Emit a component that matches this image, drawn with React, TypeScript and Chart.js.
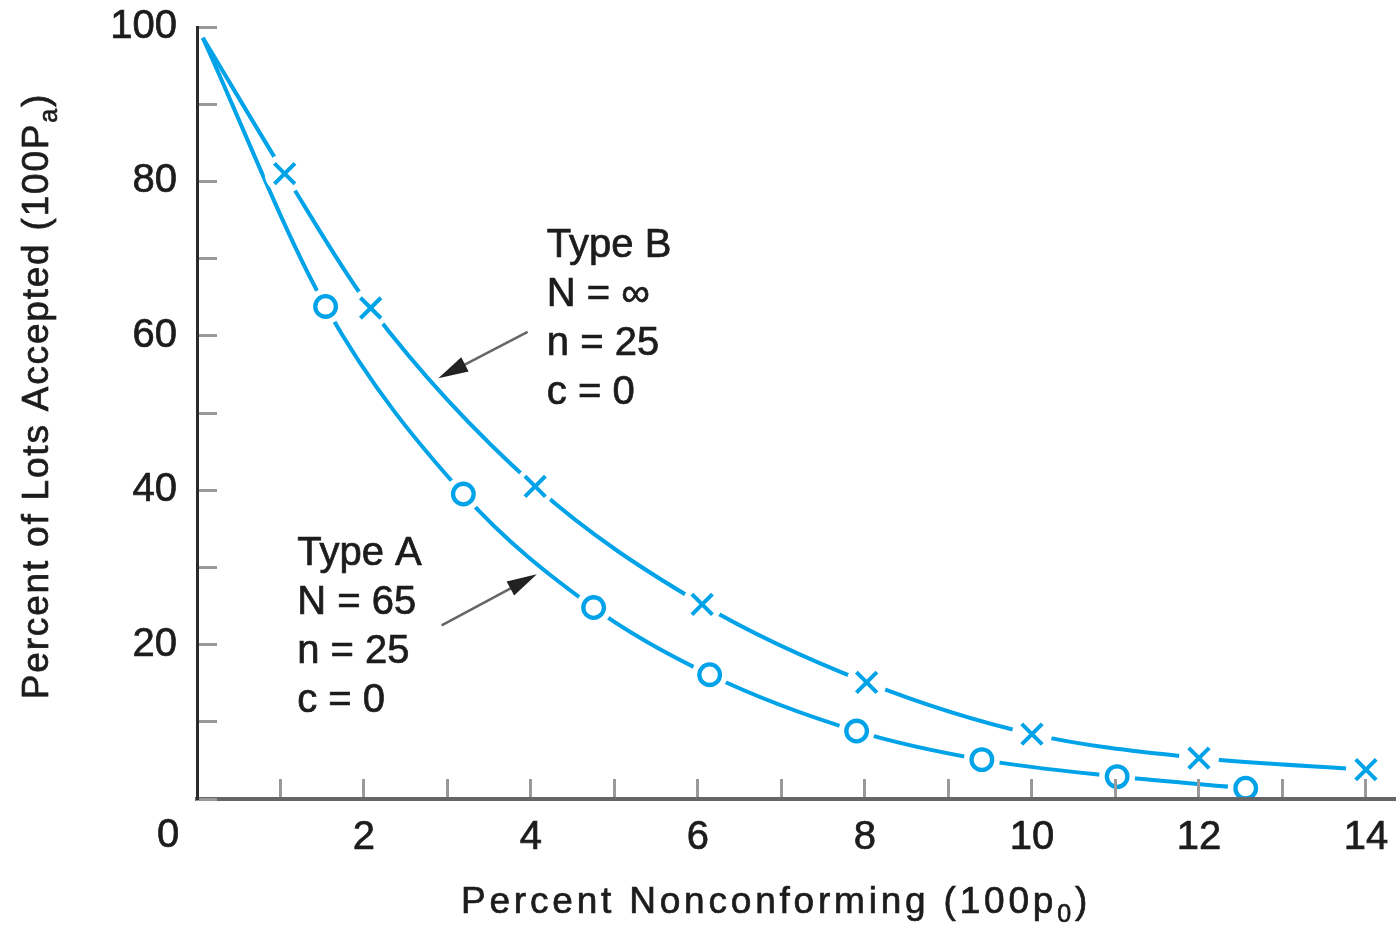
import React, { useEffect, useRef } from 'react';
import { Chart, registerables } from 'chart.js';

Chart.register(...registerables);

// ---- data ----
const curveStart = { x: 0.07, y: 98.6 };

const typeBX = [1.05, 2.08, 4.05, 6.05, 8.02, 10.0, 12.0, 14.0];
const typeBY = [81.0, 63.6, 40.5, 25.2, 15.1, 8.4, 5.3, 3.8];

const typeAX = [1.54, 3.19, 4.75, 6.14, 7.9, 9.4, 11.02, 12.56];
const typeAY = [63.8, 39.5, 24.8, 16.1, 8.8, 5.1, 2.9, 1.4];

const xLabeledTicks = [2, 4, 6, 8, 10, 12, 14];
const yLabeledTicks = [20, 40, 60, 80, 100];
const originLabel = '0';

const typeBLines = ['Type B', 'N = \u221E', 'n = 25', 'c = 0'];
const typeALines = ['Type A', 'N = 65', 'n = 25', 'c = 0'];

// annotation anchors (data units)
const typeBTextAt = { x: 4.19, y: 70.2 };
const typeATextAt = { x: 1.2, y: 30.3 };
const typeBArrow = { from: { x: 3.96, y: 60.5 }, to: { x: 2.89, y: 54.5 } };
const typeAArrow = { from: { x: 2.93, y: 22.5 }, to: { x: 4.07, y: 29.1 } };

const xTitleParts = [{ t: 'Percent Nonconforming (100p' }, { t: '0', sub: true }, { t: ')' }];
const yTitleParts = [{ t: 'Percent of Lots Accepted (100P' }, { t: 'a', sub: true }, { t: ')' }];

// ---- styles ----
const BLUE = '#00a2e8';
const TEXT = '#1c1c1c';
const FONT = '"Liberation Sans", Arial, Helvetica, sans-serif';
const TEXT_STROKE = 0.7;

const pts = (xs: number[], ys: number[]) => xs.map((x, i) => ({ x, y: ys[i] }));

function fillStrokeText(ctx: CanvasRenderingContext2D, s: string, x: number, y: number) {
  ctx.fillText(s, x, y);
  ctx.lineWidth = TEXT_STROKE;
  ctx.strokeStyle = TEXT;
  ctx.strokeText(s, x, y);
}

function drawParts(ctx: CanvasRenderingContext2D, parts: { t: string; sub?: boolean }[], size: number, spacing: number) {
  const subSize = Math.round(size * 0.68);
  const widths = parts.map((p) => {
    ctx.font = `${p.sub ? subSize : size}px ${FONT}`;
    (ctx as any).letterSpacing = `${spacing}px`;
    return ctx.measureText(p.t).width;
  });
  const total = widths.reduce((a, b) => a + b, 0);
  let x = -total / 2;
  ctx.textAlign = 'left';
  ctx.textBaseline = 'alphabetic';
  parts.forEach((p, i) => {
    ctx.font = `${p.sub ? subSize : size}px ${FONT}`;
    (ctx as any).letterSpacing = `${spacing}px`;
    fillStrokeText(ctx, p.t, x, p.sub ? size * 0.25 : 0);
    x += widths[i];
  });
  (ctx as any).letterSpacing = '0px';
}

function drawArrow(ctx: CanvasRenderingContext2D, x1: number, y1: number, x2: number, y2: number) {
  const ang = Math.atan2(y2 - y1, x2 - x1);
  const headLen = 30;
  const headHalf = 8;
  const bx = x2 - headLen * Math.cos(ang);
  const by = y2 - headLen * Math.sin(ang);
  ctx.strokeStyle = '#666';
  ctx.lineWidth = 2.5;
  ctx.beginPath();
  ctx.moveTo(x1, y1);
  ctx.lineTo(bx + 4 * Math.cos(ang), by + 4 * Math.sin(ang));
  ctx.stroke();
  ctx.fillStyle = '#222';
  ctx.beginPath();
  ctx.moveTo(x2, y2);
  ctx.lineTo(bx + headHalf * Math.sin(ang), by - headHalf * Math.cos(ang));
  ctx.lineTo(bx - headHalf * Math.sin(ang), by + headHalf * Math.cos(ang));
  ctx.closePath();
  ctx.fill();
}

const annotationPlugin = {
  id: 'ocAnnotations',
  afterDraw(chart: any) {
    const ctx: CanvasRenderingContext2D = chart.ctx;
    const xs = chart.scales.x;
    const ys = chart.scales.y;
    const px = (p: { x: number; y: number }) => [xs.getPixelForValue(p.x), ys.getPixelForValue(p.y)];
    ctx.save();

    ctx.font = `40px ${FONT}`;
    ctx.fillStyle = TEXT;
    ctx.textAlign = 'center';
    ctx.textBaseline = 'middle';
    fillStrokeText(ctx, originLabel, xs.getPixelForValue(0) - 29, ys.getPixelForValue(0) + 37);

    ctx.textAlign = 'left';
    ctx.textBaseline = 'alphabetic';
    const block = (lines: string[], at: { x: number; y: number }) => {
      const [x, y] = px(at);
      lines.forEach((l, i) => fillStrokeText(ctx, l, x, y + i * 49));
    };
    block(typeBLines, typeBTextAt);
    block(typeALines, typeATextAt);

    for (const a of [typeBArrow, typeAArrow]) {
      const [x1, y1] = px(a.from);
      const [x2, y2] = px(a.to);
      drawArrow(ctx, x1, y1, x2, y2);
    }

    ctx.fillStyle = TEXT;
    ctx.save();
    ctx.translate(776, 913);
    drawParts(ctx, xTitleParts, 37, 3.8);
    ctx.restore();

    ctx.save();
    ctx.translate(48, 396);
    ctx.rotate(-Math.PI / 2);
    drawParts(ctx, yTitleParts, 37, 1.8);
    ctx.restore();

    ctx.restore();
  },
};

const isLabeled = (v: number, list: number[]) => {
  const r = Math.round(v);
  return Math.abs(v - r) < 1e-6 && list.includes(r);
};

export default function App() {
  const ref = useRef<HTMLCanvasElement | null>(null);

  useEffect(() => {
    if (!ref.current) return;
    const curveB = [curveStart, ...pts(typeBX, typeBY)];
    const curveA = [curveStart, ...pts(typeAX, typeAY)];
    const markersB = pts(typeBX, typeBY);
    const markersA = pts(typeAX, typeAY);

    const chart = new Chart(ref.current, {
      type: 'scatter',
      data: {
        datasets: [
          {
            label: 'Type B curve',
            data: curveB,
            showLine: true,
            borderColor: BLUE,
            borderWidth: 4,
            pointRadius: 0,
            cubicInterpolationMode: 'monotone',
            fill: false,
            order: 3,
          } as any,
          {
            label: 'Type A curve',
            data: curveA,
            showLine: true,
            borderColor: BLUE,
            borderWidth: 4,
            pointRadius: 0,
            cubicInterpolationMode: 'monotone',
            fill: false,
            order: 3,
          } as any,
          {
            label: 'Type B gap',
            data: markersB,
            showLine: false,
            pointRadius: 20,
            pointBackgroundColor: '#ffffff',
            pointBorderWidth: 0,
            pointBorderColor: '#ffffff',
            order: 2,
          } as any,
          {
            label: 'Type A gap',
            data: markersA,
            showLine: false,
            pointRadius: 18,
            pointBackgroundColor: '#ffffff',
            pointBorderWidth: 0,
            pointBorderColor: '#ffffff',
            order: 2,
          } as any,
          {
            label: 'Type B',
            data: markersB,
            showLine: false,
            pointStyle: 'crossRot',
            pointRadius: 14.5,
            pointBorderWidth: 4,
            pointBorderColor: BLUE,
            pointBackgroundColor: BLUE,
            order: 1,
          } as any,
          {
            label: 'Type A',
            data: markersA,
            showLine: false,
            pointStyle: 'circle',
            pointRadius: 10.3,
            pointBorderWidth: 4.3,
            pointBorderColor: BLUE,
            pointBackgroundColor: '#ffffff',
            order: 1,
          } as any,
        ],
      },
      options: {
        animation: false,
        responsive: false,
        devicePixelRatio: 1,
        events: [],
        layout: { autoPadding: false, padding: { top: 27, left: 0, right: 0, bottom: 0 } },
        plugins: { legend: { display: false }, tooltip: { enabled: false }, title: { display: false } },
        scales: {
          x: {
            type: 'linear',
            min: 0,
            max: 14.36,
            afterFit: (s: any) => {
              s.height = 128;
              s.paddingLeft = 0;
              s.paddingRight = 0;
            },
            grid: { drawOnChartArea: false, drawTicks: true, tickLength: -20, tickWidth: 3, tickColor: '#9a9a9a', z: 1 },
            border: { display: true, color: '#666666', width: 4, z: 1 },
            ticks: {
              stepSize: 1,
              autoSkip: false,
              includeBounds: false,
              maxRotation: 0,
              padding: 35,
              color: TEXT,
              textStrokeColor: TEXT,
              textStrokeWidth: TEXT_STROKE,
              font: { family: FONT, size: 40 },
              callback: (v: any) => (isLabeled(Number(v), xLabeledTicks) ? String(Math.round(Number(v))) : ''),
            },
          },
          y: {
            type: 'linear',
            min: 0,
            max: 100,
            afterFit: (s: any) => {
              s.width = 197;
              s.paddingTop = 0;
              s.paddingBottom = 0;
            },
            grid: { drawOnChartArea: false, drawTicks: true, tickLength: -20, tickWidth: 3, tickColor: '#9a9a9a', z: 1 },
            border: { display: true, color: '#2a2a2a', width: 3, z: 1 },
            ticks: {
              stepSize: 10,
              autoSkip: false,
              includeBounds: false,
              padding: 40,
              color: TEXT,
              textStrokeColor: TEXT,
              textStrokeWidth: TEXT_STROKE,
              font: { family: FONT, size: 40 },
              callback: (v: any) => (isLabeled(Number(v), yLabeledTicks) ? String(Math.round(Number(v))) : ''),
            },
          },
        },
      } as any,
      plugins: [annotationPlugin],
    });
    return () => chart.destroy();
  }, []);

  return (
    <div style={{ position: 'fixed', left: 0, top: 0, width: 1396, height: 927, background: '#ffffff' }}>
      <canvas ref={ref} width={1396} height={927} style={{ display: 'block', width: 1396, height: 927 }} />
    </div>
  );
}
